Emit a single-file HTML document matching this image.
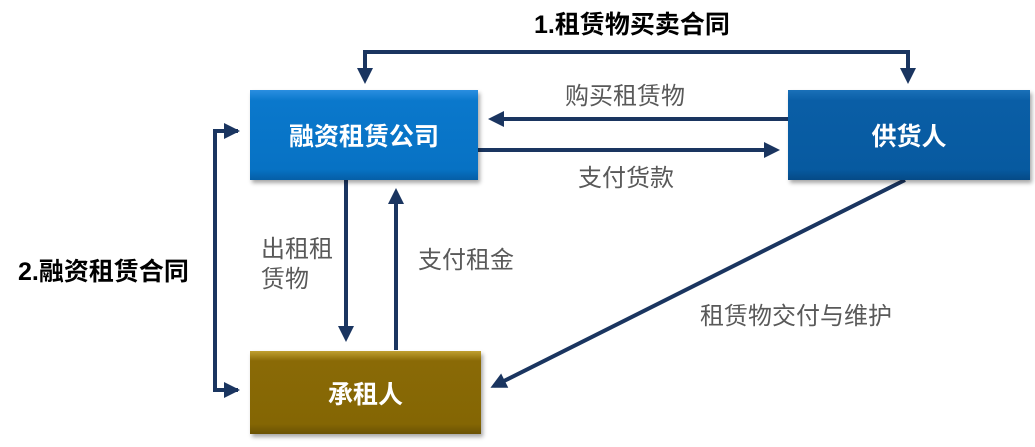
<!DOCTYPE html>
<html><head><meta charset="utf-8"><style>
body{margin:0;width:1035px;height:447px;background:#fff;position:relative;overflow:hidden;font-family:"Liberation Sans","Noto Sans CJK SC",sans-serif}
.box{position:absolute;color:#fff;font-weight:bold;font-size:25px;display:flex;align-items:center;justify-content:center;box-shadow:2px 3px 4px rgba(0,0,0,.35)}
.t{position:absolute;color:#595959;font-size:24px;white-space:nowrap;line-height:1.25}
.b{position:absolute;color:#000;font-weight:bold;font-size:25px;white-space:nowrap}
</style></head><body>
<svg width="1035" height="447" style="position:absolute;left:0;top:0">
<defs><marker id="a" markerWidth="4" markerHeight="4" refX="3" refY="2" orient="auto" markerUnits="strokeWidth"><path d="M0,0L4,2L0,4z" fill="#1a3560"/></marker></defs>
<g stroke="#1a3560" stroke-width="4" fill="none">
<path d="M365,80V52H908V80" />
<path d="M365,52V80" marker-end="url(#a)"/>
<path d="M908,52V80" marker-end="url(#a)"/>
<path d="M788,119H492" marker-end="url(#a)"/>
<path d="M478,150H776" marker-end="url(#a)"/>
<path d="M346,180V338" marker-end="url(#a)"/>
<path d="M396,350V192" marker-end="url(#a)"/>
<path d="M238,131H215V390H238" />
<path d="M215,131H236" marker-end="url(#a)"/>
<path d="M215,390H236" marker-end="url(#a)"/>
<path d="M905,180L494,386" marker-end="url(#a)"/>
</g></svg>
<div class="box" style="left:250px;top:90px;width:228px;height:90px;background:linear-gradient(#2a8ee0,#0a78cc 12%,#0772c4 88%,#055ea6)">融资租赁公司</div>
<div class="box" style="left:788px;top:90px;width:242px;height:90px;background:linear-gradient(#1a70b8,#0a5ea6 12%,#075aa0 88%,#054a86)">供货人</div>
<div class="box" style="left:250px;top:351px;width:231px;height:83px;background:linear-gradient(#c0a030,#8a6a06 12%,#846604 88%,#6a5204)">承租人</div>
<div class="b" style="left:534px;top:5px">1.租赁物买卖合同</div>
<div class="b" style="left:18px;top:252px">2.融资租赁合同</div>
<div class="t" style="left:565px;top:82px">购买租赁物</div>
<div class="t" style="left:578px;top:164px">支付货款</div>
<div class="t" style="left:261px;top:235px">出租租<br>赁物</div>
<div class="t" style="left:418px;top:246px">支付租金</div>
<div class="t" style="left:700px;top:302px">租赁物交付与维护</div>
</body></html>
